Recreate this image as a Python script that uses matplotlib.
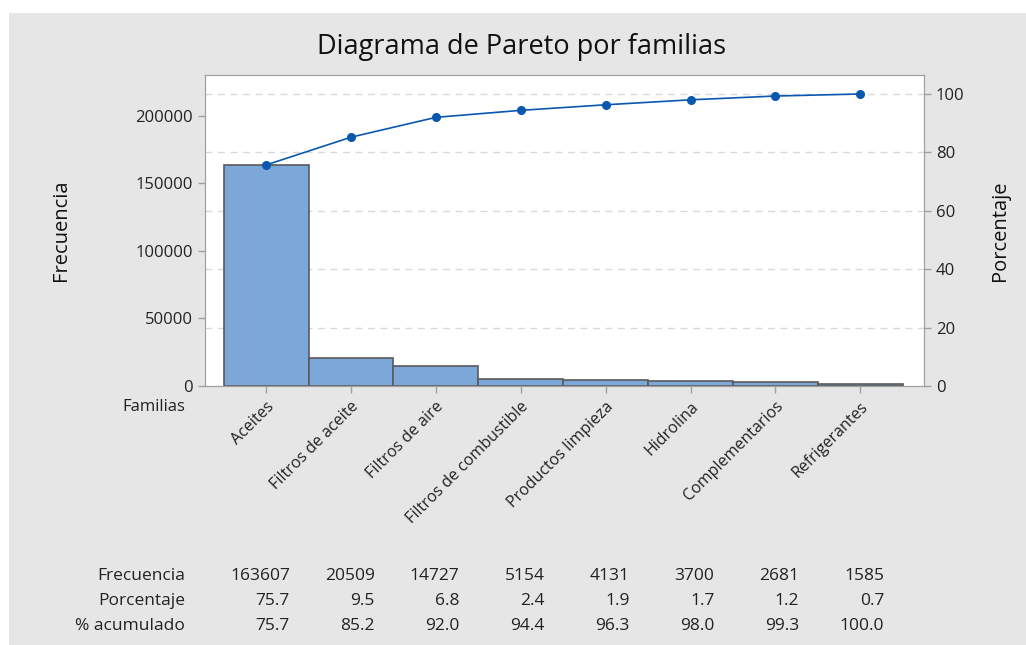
import numpy as np
import matplotlib.pyplot as plt
from matplotlib.patches import Rectangle

plt.rcParams['font.family'] = ['Open Sans', 'DejaVu Sans']

familias = ['Aceites', 'Filtros de aceite', 'Filtros de aire', 'Filtros de combustible',
            'Productos limpieza', 'Hidrolina', 'Complementarios', 'Refrigerantes']
frecuencia = [163607, 20509, 14727, 5154, 4131, 3700, 2681, 1585]
porcentaje = [75.7, 9.5, 6.8, 2.4, 1.9, 1.7, 1.2, 0.7]
acumulado = [75.7, 85.2, 92.0, 94.4, 96.3, 98.0, 99.3, 100.0]

W, H = 1026, 645
fig = plt.figure(figsize=(W / 100, H / 100), dpi=100, facecolor='white')

# grey panel behind everything
fig.patches.append(Rectangle((9 / W, 0), 1 - 9 / W, 1 - 13 / H, transform=fig.transFigure,
                             facecolor='#e6e6e6', edgecolor='none', zorder=-5))

ax = fig.add_axes([205 / W, 1 - 386 / H, (924 - 205) / W, (386 - 75) / H])
ax2 = ax.twinx()

x = np.arange(len(familias))
total = sum(frecuencia)
k = 1.065

ax.bar(x, frecuencia, width=1.0, color='#7ba7d9', edgecolor='#5a5a5a', linewidth=1.2, zorder=2)
ax.set_xlim(-0.72, 7.75)
ax.set_ylim(0, total * k)
ax.set_yticks([0, 50000, 100000, 150000, 200000])
ax.set_yticklabels(['0', '50000', '100000', '150000', '200000'])

ax2.set_ylim(0, 100 * k)
ax2.set_yticks([0, 20, 40, 60, 80, 100])
# dashed grid lines from the percent axis, drawn behind the bars
for g in [20, 40, 60, 80, 100]:
    ax.axhline(g / 100 * total, color='#d9d9d9', linestyle=(0, (5, 4)), linewidth=1, zorder=1)
ax2.plot(x, acumulado, color='#0a57b0', linewidth=1.2, marker='o', markersize=5.5, zorder=3)
ax.set_facecolor('white')

for a in (ax, ax2):
    for s in a.spines.values():
        s.set_color('#a0a0a0')
    a.tick_params(colors='#a0a0a0', labelcolor='#222222', labelsize=12, length=5, width=1)

ax.set_xticks(x)
ax.set_xticklabels(familias, rotation=45, ha='right', rotation_mode='anchor', fontsize=11.5)
ax.tick_params(axis='x', pad=4)

ax.set_ylabel('Frecuencia', fontsize=14.5, color='#111111')
ax2.set_ylabel('Porcentaje', fontsize=14.5, color='#111111')
ax.yaxis.set_label_coords(-0.186, 0.5)
ax2.yaxis.set_label_coords(1.092, 0.5)

fig.text(522 / W, 1 - 47 / H, 'Diagrama de Pareto por familias', ha='center', va='center',
         fontsize=19.5, color='#111111')

fig.text(185 / W, 1 - 407 / H, 'Familias', ha='right', va='center', fontsize=12, color='#222222')

rows = [('Frecuencia', [str(v) for v in frecuencia]),
        ('Porcentaje', ['%.1f' % v for v in porcentaje]),
        ('% acumulado', ['%.1f' % v for v in acumulado])]
row_y = [576, 601, 626]
for (label, vals), yp in zip(rows, row_y):
    fig.text(185 / W, 1 - yp / H, label, ha='right', va='center', fontsize=12.5, color='#222222')
    for i, v in enumerate(vals):
        xp = ax.transData.transform((i + 0.28, 0))[0]
        fig.text(xp / W, 1 - yp / H, v, ha='right', va='center', fontsize=12.5, color='#222222')

fig.savefig('out.png', dpi=100)
